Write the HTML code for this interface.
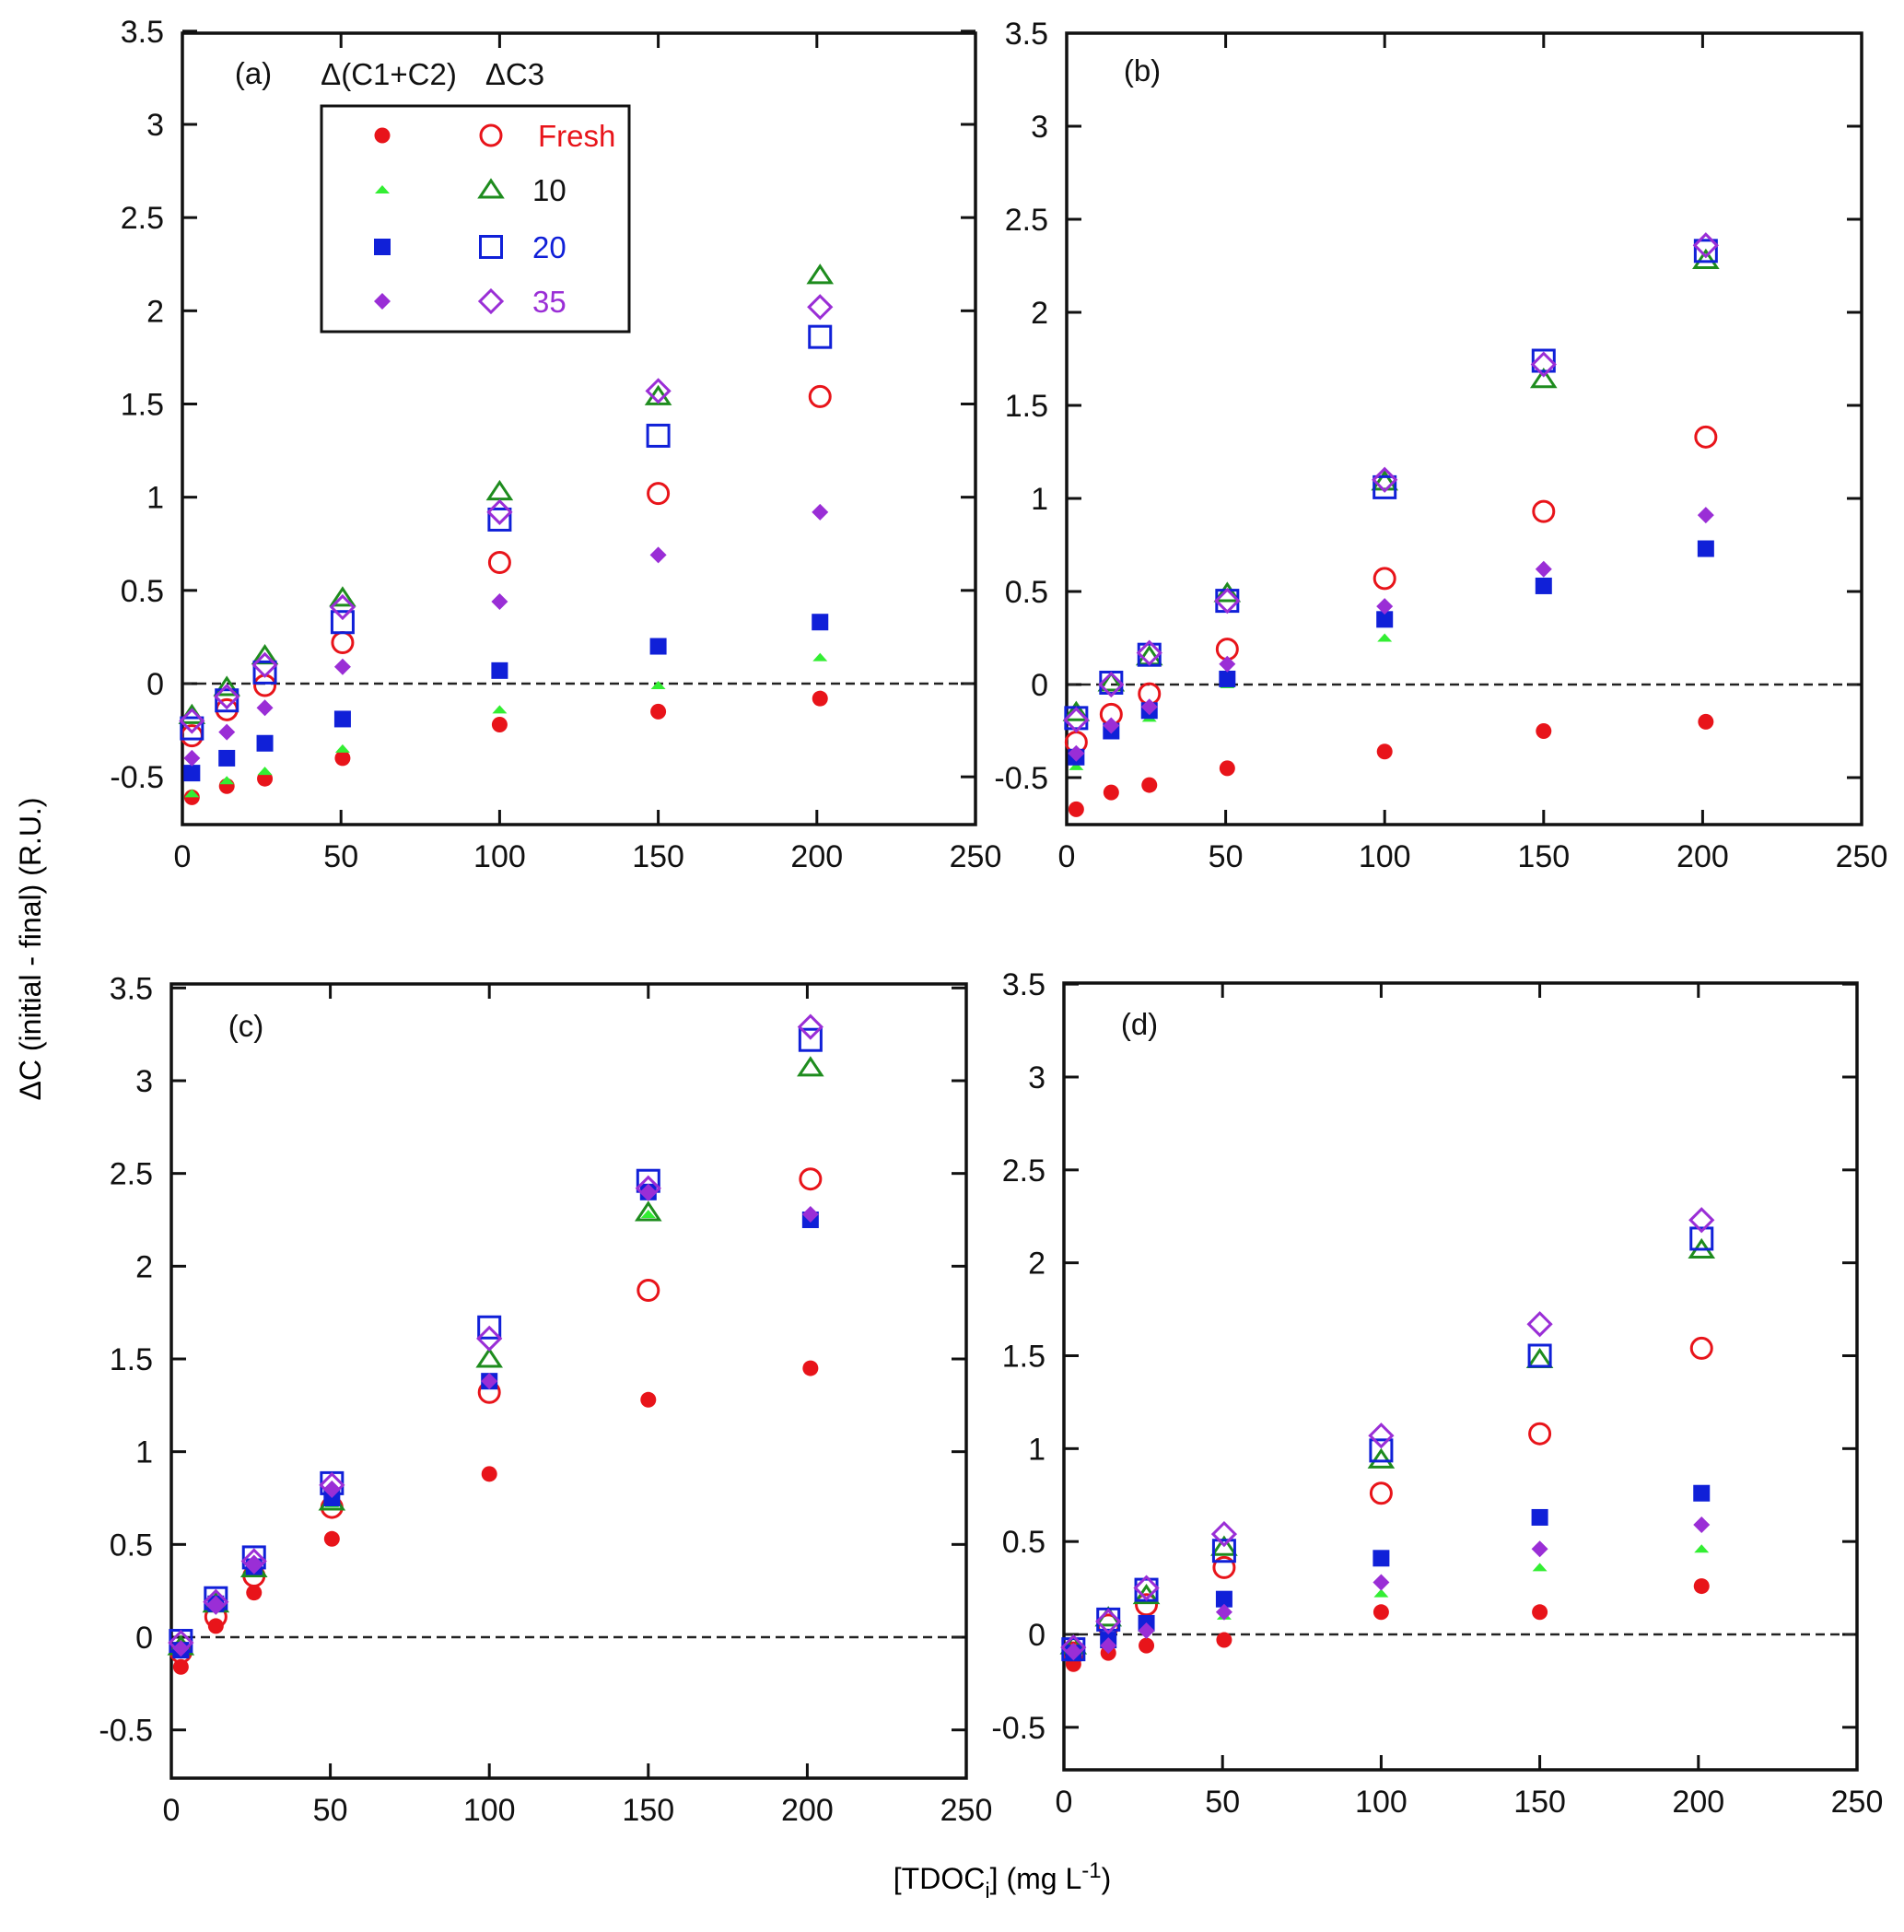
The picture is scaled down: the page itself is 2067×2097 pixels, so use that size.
<!DOCTYPE html>
<html><head><meta charset="utf-8"><style>
html,body{margin:0;padding:0;background:#fff}
svg{display:block}
text{font-family:"Liberation Sans",Arial,sans-serif}
</style></head><body>
<svg id="chart" width="2067" height="2097" viewBox="0 0 2067 2097" xmlns="http://www.w3.org/2000/svg">
<text x="0" y="0" font-size="32" text-anchor="middle" transform="translate(44,1030) rotate(-90)">ΔC (initial - final) (R.U.)</text>
<text x="1088" y="2050" font-size="32" text-anchor="middle">[TDOC<tspan font-size="24" dy="10">i</tspan><tspan dy="-10">] (mg L</tspan><tspan font-size="24" dy="-12">-1</tspan><tspan dy="12">)</tspan></text>
</svg>
<script>
const NS="http://www.w3.org/2000/svg";
const svg=document.getElementById('chart');
const xValues=[3,14,26,50.5,100,150,201];
const xTicks=[0,50,100,150,200,250];
const yTicks=[-0.5,0,0.5,1,1.5,2,2.5,3,3.5];
const seriesKeys=["freshC12","freshC3","d10C12","d10C3","d20C12","d20C3","d35C12","d35C3"];
// panel (a)
const aFreshC12=[-0.61,-0.55,-0.51,-0.40,-0.22,-0.15,-0.08];
const aFreshC3=[-0.28,-0.14,-0.01,0.22,0.65,1.02,1.54];
const a10C12=[-0.59,-0.52,-0.47,-0.35,-0.14,-0.01,0.14];
const a10C3=[-0.17,-0.02,0.15,0.46,1.03,1.54,2.19];
const a20C12=[-0.48,-0.40,-0.32,-0.19,0.07,0.20,0.33];
const a20C3=[-0.24,-0.09,0.06,0.33,0.88,1.33,1.86];
const a35C12=[-0.40,-0.26,-0.13,0.09,0.44,0.69,0.92];
const a35C3=[-0.20,-0.07,0.10,0.41,0.92,1.57,2.02];
// panel (b)
const bFreshC12=[-0.67,-0.58,-0.54,-0.45,-0.36,-0.25,-0.20];
const bFreshC3=[-0.31,-0.16,-0.05,0.19,0.57,0.93,1.33];
const b10C12=[-0.44,-0.27,-0.18,0.0,0.25,0.52,0.73];
const b10C3=[-0.15,0.01,0.15,0.49,1.09,1.64,2.28];
const b20C12=[-0.39,-0.25,-0.14,0.03,0.35,0.53,0.73];
const b20C3=[-0.18,0.01,0.16,0.45,1.06,1.74,2.33];
const b35C12=[-0.37,-0.22,-0.12,0.11,0.42,0.62,0.91];
const b35C3=[-0.19,0.0,0.17,0.45,1.10,1.72,2.36];
// panel (c)
const cFreshC12=[-0.16,0.06,0.24,0.53,0.88,1.28,1.45];
const cFreshC3=[-0.08,0.11,0.33,0.70,1.32,1.87,2.47];
const c10C12=[-0.06,0.17,0.35,0.72,1.37,2.28,2.25];
const c10C3=[-0.05,0.18,0.37,0.73,1.50,2.29,3.07];
const c20C12=[-0.07,0.18,0.38,0.75,1.38,2.40,2.25];
const c20C3=[-0.02,0.21,0.43,0.83,1.67,2.46,3.22];
const c35C12=[-0.06,0.18,0.40,0.80,1.38,2.40,2.28];
const c35C3=[-0.03,0.19,0.41,0.82,1.61,2.42,3.29];
// panel (d)
const dFreshC12=[-0.16,-0.10,-0.06,-0.03,0.12,0.12,0.26];
const dFreshC3=[-0.10,0.05,0.16,0.36,0.76,1.08,1.54];
const d10C12=[-0.08,-0.05,0.03,0.10,0.22,0.36,0.46];
const d10C3=[-0.06,0.09,0.21,0.47,0.94,1.48,2.07];
const d20C12=[-0.10,-0.03,0.06,0.19,0.41,0.63,0.76];
const d20C3=[-0.08,0.08,0.24,0.45,0.99,1.50,2.13];
const d35C12=[-0.09,-0.06,0.02,0.12,0.28,0.46,0.59];
const d35C3=[-0.07,0.07,0.25,0.54,1.07,1.67,2.23];

const panels=[
 {id:"a",L:198,R:1059,T:36,B:895,y0:742,y3:135,lx:275,ly:91,data:[aFreshC12,aFreshC3,a10C12,a10C3,a20C12,a20C3,a35C12,a35C3]},
 {id:"b",L:1158,R:2021,T:36,B:895,y0:743,y3:137,lx:1240,ly:88,data:[bFreshC12,bFreshC3,b10C12,b10C3,b20C12,b20C3,b35C12,b35C3]},
 {id:"c",L:186,R:1049,T:1068,B:1930,y0:1777,y3:1173,lx:267,ly:1125,data:[cFreshC12,cFreshC3,c10C12,c10C3,c20C12,c20C3,c35C12,c35C3]},
 {id:"d",L:1155,R:2016,T:1067,B:1921,y0:1774,y3:1169,lx:1237,ly:1123,data:[dFreshC12,dFreshC3,d10C12,d10C3,d20C12,d20C3,d35C12,d35C3]}
];
const RED="#e8141a",GREEN="#1e8c1e",LGREEN="#33ee33",BLUE="#1020d8",PURPLE="#9a2ed6";
const styles=[
 {shape:"circle",fill:RED},{shape:"circle",stroke:RED},
 {shape:"tri",fill:LGREEN,small:true},{shape:"tri",stroke:GREEN},
 {shape:"square",fill:BLUE},{shape:"square",stroke:BLUE},
 {shape:"diamond",fill:PURPLE},{shape:"diamond",stroke:PURPLE}
];
function mk(tag,attrs,parent){const e=document.createElementNS(NS,tag);for(const k in attrs)e.setAttribute(k,attrs[k]);(parent||svg).appendChild(e);return e;}
function marker(g,st,cx,cy){
 const f=st.fill||"none",s=st.stroke||"none",sw=st.stroke?3:0;let e;
 if(st.shape==="circle"){e=mk("circle",{cx:cx,cy:cy,r:st.fill?8.5:11,fill:f,stroke:s,"stroke-width":sw},g);}
 else if(st.shape==="square"){const h=st.fill?9:11.5;e=mk("rect",{x:cx-h,y:cy-h,width:2*h,height:2*h,fill:f,stroke:s,"stroke-width":sw},g);}
 else if(st.shape==="diamond"){const h=st.fill?9:12;e=mk("polygon",{points:`${cx},${cy-h} ${cx+h},${cy} ${cx},${cy+h} ${cx-h},${cy}`,fill:f,stroke:s,"stroke-width":sw},g);}
 else{ if(st.small){e=mk("polygon",{points:`${cx-8},${cy+4} ${cx+8},${cy+4} ${cx},${cy-5}`,fill:f},g);}
   else{e=mk("polygon",{points:`${cx-12},${cy+8} ${cx+12},${cy+8} ${cx},${cy-10}`,fill:f,stroke:s,"stroke-width":sw},g);} }
 return e;
}
panels.forEach(p=>{
 const g=mk("g",{});
 
 
 const sx=v=>p.L+(v/250)*(p.R-p.L);
 const sy=v=>p.y0+(p.y3-p.y0)*v/3;
 xTicks.forEach(t=>{
  const x=sx(t);
  if(t>0&&t<250){mk("line",{x1:x,y1:p.B,x2:x,y2:p.B-16,stroke:"#111","stroke-width":3},g);mk("line",{x1:x,y1:p.T,x2:x,y2:p.T+16,stroke:"#111","stroke-width":3},g);}
  const tx=mk("text",{x:x,y:p.B+46,"font-size":34,"text-anchor":"middle",fill:"#111"},g);tx.textContent=t;
  
  
 });
 yTicks.forEach(t=>{
  const y=sy(t);
  mk("line",{x1:p.L,y1:y,x2:p.L+16,y2:y,stroke:"#111","stroke-width":3},g);
  mk("line",{x1:p.R,y1:y,x2:p.R-16,y2:y,stroke:"#111","stroke-width":3},g);
  const tx=mk("text",{x:p.L-20,y:y+12,"font-size":34,"text-anchor":"end",fill:"#111"},g);tx.textContent=String(t);
  
  
 });
 const zl=mk("line",{x1:p.L,y1:sy(0),x2:p.R,y2:sy(0),stroke:"#222","stroke-width":2.5,"stroke-dasharray":"10,6"},g);
 
 
 const fr=mk("rect",{x:p.L,y:p.T,width:p.R-p.L,height:p.B-p.T,fill:"none",stroke:"#111","stroke-width":3.5},g);
 
 
 p.data.forEach((arr,si)=>{
  const sg=mk("g",{},g);
  
  
  arr.forEach((v,i)=>{
   const m=marker(sg,styles[si],sx(xValues[i]),sy(v));
   
   
  });
 });
 const lab=mk("text",{x:p.lx,y:p.ly,"font-size":33,"text-anchor":"middle",fill:"#111"},g);
 lab.textContent="("+p.id+")";
 
 
});
const lg=mk("g",{});


const h1=mk("text",{x:422,y:92,"font-size":33,"text-anchor":"middle",fill:"#111"},lg);h1.textContent="Δ(C1+C2)";


const h2=mk("text",{x:559,y:92,"font-size":33,"text-anchor":"middle",fill:"#111"},lg);h2.textContent="ΔC3";


mk("rect",{x:349,y:115,width:334,height:245,fill:"none",stroke:"#111","stroke-width":3},lg);
const legendLabels=["Fresh","10","20","35"];
const legendColors=[RED,"#111",BLUE,PURPLE];
const rowsY=[147,206,268,327];
legendLabels.forEach((lbl,i)=>{
 const eg=mk("g",{},lg);
 
 
 marker(eg,styles[2*i],415,rowsY[i]);
 marker(eg,styles[2*i+1],533,rowsY[i]);
 const t=mk("text",{x:i===0?584:578,y:rowsY[i]+12,"font-size":33,fill:legendColors[i]},eg);t.textContent=lbl;
});
</script>
</body></html>
